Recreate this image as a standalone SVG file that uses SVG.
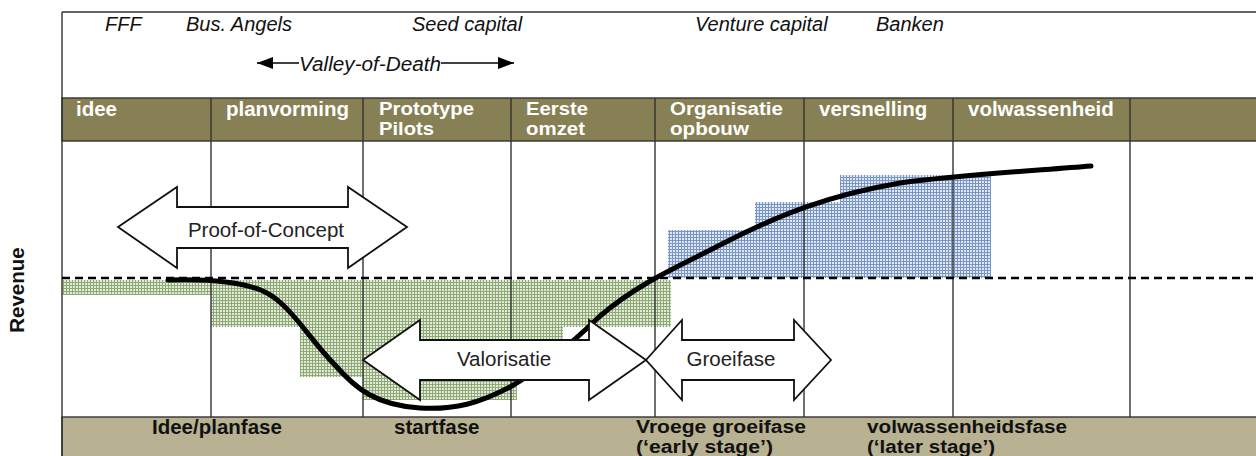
<svg xmlns="http://www.w3.org/2000/svg" width="1256" height="456" viewBox="0 0 1256 456">
<style>
.fin{font-family:"Liberation Sans",Arial,sans-serif;font-style:italic;font-size:20px;fill:#111}
.hd{font-family:"Liberation Sans",Arial,sans-serif;font-weight:bold;font-size:20.5px;fill:#fff}
.hd2{font-family:"Liberation Sans",Arial,sans-serif;font-weight:bold;font-size:17.5px;fill:#fff}
.ft{font-family:"Liberation Sans",Arial,sans-serif;font-weight:bold;font-size:20.5px;fill:#111}
.ft2{font-family:"Liberation Sans",Arial,sans-serif;font-weight:bold;font-size:17.5px;fill:#111}
.ar{font-family:"Liberation Sans",Arial,sans-serif;font-size:20.5px;fill:#222;text-anchor:middle}
.vl{stroke:#333;stroke-width:1.4;fill:none}
.bigarrow{fill:#fff;stroke:#111;stroke-width:1.8;stroke-linejoin:miter}
</style>
<defs>
<pattern id="gh" width="3" height="3" patternUnits="userSpaceOnUse">
<rect width="3" height="3" fill="#e2eadb"/>
<path d="M0,0.5H3M0.5,0V3" stroke="#8fa974" stroke-width="1"/>
</pattern>
<pattern id="bh" width="3" height="3" patternUnits="userSpaceOnUse">
<rect width="3" height="3" fill="#dfe7f2"/>
<path d="M0,0.5H3M0.5,0V3" stroke="#7895c4" stroke-width="1"/>
</pattern>
<marker id="ah" markerWidth="16" markerHeight="12" refX="16" refY="6" orient="auto-start-reverse" markerUnits="userSpaceOnUse">
<path d="M0,0L16,6L0,12Z" fill="#000"/>
</marker>
</defs>
<rect width="1256" height="456" fill="#fff"/>

<g id="financing">
<text class="fin" x="105" y="31">FFF</text>
<text class="fin" x="186" y="31">Bus. Angels</text>
<text class="fin" x="412" y="31">Seed capital</text>
<text class="fin" x="695" y="31">Venture capital</text>
<text class="fin" x="876" y="31">Banken</text>
</g>

<g id="blocks">
<rect x="62" y="280" width="149" height="15" fill="url(#gh)"/>
<rect x="211" y="280" width="460" height="47" fill="url(#gh)"/>
<rect x="300" y="327" width="263" height="50" fill="url(#gh)"/>
<rect x="363" y="377" width="154" height="23" fill="url(#gh)"/>
<rect x="668" y="230" width="87" height="48" fill="url(#bh)"/>
<rect x="755" y="202" width="85" height="76" fill="url(#bh)"/>
<rect x="840" y="175" width="151" height="103" fill="url(#bh)"/>
</g>

<g id="header">
<rect x="62" y="98" width="1200" height="43" fill="#868054" stroke="#333" stroke-width="1.4"/>
<text class="hd" x="76" y="116">idee</text>
<text class="hd" x="226" y="116">planvorming</text>
<text class="hd2" x="379" y="115" textLength="95" lengthAdjust="spacingAndGlyphs">Prototype</text>
<text class="hd2" x="379" y="135" textLength="55" lengthAdjust="spacingAndGlyphs">Pilots</text>
<text class="hd2" x="526" y="115" textLength="62" lengthAdjust="spacingAndGlyphs">Eerste</text>
<text class="hd2" x="526" y="135" textLength="59" lengthAdjust="spacingAndGlyphs">omzet</text>
<text class="hd2" x="670" y="115" textLength="113" lengthAdjust="spacingAndGlyphs">Organisatie</text>
<text class="hd2" x="670" y="135" textLength="79" lengthAdjust="spacingAndGlyphs">opbouw</text>
<text class="hd" x="819" y="116">versnelling</text>
<text class="hd" x="968" y="116">volwassenheid</text>
</g>

<g id="footer">
<rect x="62" y="417" width="1200" height="45" fill="#b8b292" stroke="#333" stroke-width="1.4"/>
<text class="ft" x="152" y="434">Idee/planfase</text>
<text class="ft" x="394" y="434">startfase</text>
<text class="ft2" x="636" y="433" textLength="170" lengthAdjust="spacingAndGlyphs">Vroege groeifase</text>
<text class="ft2" x="636" y="453" textLength="137" lengthAdjust="spacingAndGlyphs">(‘early stage’)</text>
<text class="ft2" x="867" y="433" textLength="200" lengthAdjust="spacingAndGlyphs">volwassenheidsfase</text>
<text class="ft2" x="867" y="453" textLength="128" lengthAdjust="spacingAndGlyphs">(‘later stage’)</text>
</g>

<g id="grid">
<path class="vl" d="M62,12H1256M62,12V456"/>
<path class="vl" d="M211,141V417M363,141V417M511,141V417M655,141V417M804,141V417M953,141V417M1130,141V417M211,98V141M363,98V141M511,98V141M655,98V141M804,98V141M953,98V141M1130,98V141"/>
<path d="M62,278H1256" stroke="#000" stroke-width="2.6" stroke-dasharray="8,5" fill="none"/>
</g>

<g id="revenue-curve">
<path d="M168,280 C200,279 240,280 265,292 C290,304 310,340 335,365 C355,388 375,405 420,408 C455,410 480,403 510,387 C540,370 570,345 600,316 C640,282 680,266 720,245 C780,214 830,195 900,183 C960,175 1030,171 1091,166" fill="none" stroke="#000" stroke-width="5" stroke-linecap="round"/>
</g>

<g id="proof-of-concept">
<polygon class="bigarrow" points="118,227 177,187 177,207 348,207 348,187 407,227 348,268 348,248 177,248 177,268"/>
<text class="ar" x="266" y="237">Proof-of-Concept</text>
</g>

<g id="valorisatie">
<polygon class="bigarrow" points="363,360 420,320 420,340 589,340 589,320 646,360 589,400 589,380 420,380 420,400"/>
<text class="ar" x="504" y="366">Valorisatie</text>
</g>

<g id="groeifase">
<polygon class="bigarrow" points="646,360 682,320 682,340 794,340 794,320 831,360 794,400 794,380 682,380 682,400"/>
<text class="ar" x="731" y="366">Groeifase</text>
</g>

<g id="revenue-label">
<text class="ft" x="0" y="0" text-anchor="middle" transform="translate(24,290) rotate(-90)" font-size="18">Revenue</text>
</g>

<g id="connectors">
<line x1="257" y1="63" x2="299" y2="63" stroke="#000" stroke-width="1.5" marker-start="url(#ah)"/>
<line x1="441" y1="63" x2="514" y2="63" stroke="#000" stroke-width="1.5" marker-end="url(#ah)"/>
<text class="fin" x="299" y="71" textLength="142" lengthAdjust="spacingAndGlyphs">Valley-of-Death</text>
</g>
</svg>
